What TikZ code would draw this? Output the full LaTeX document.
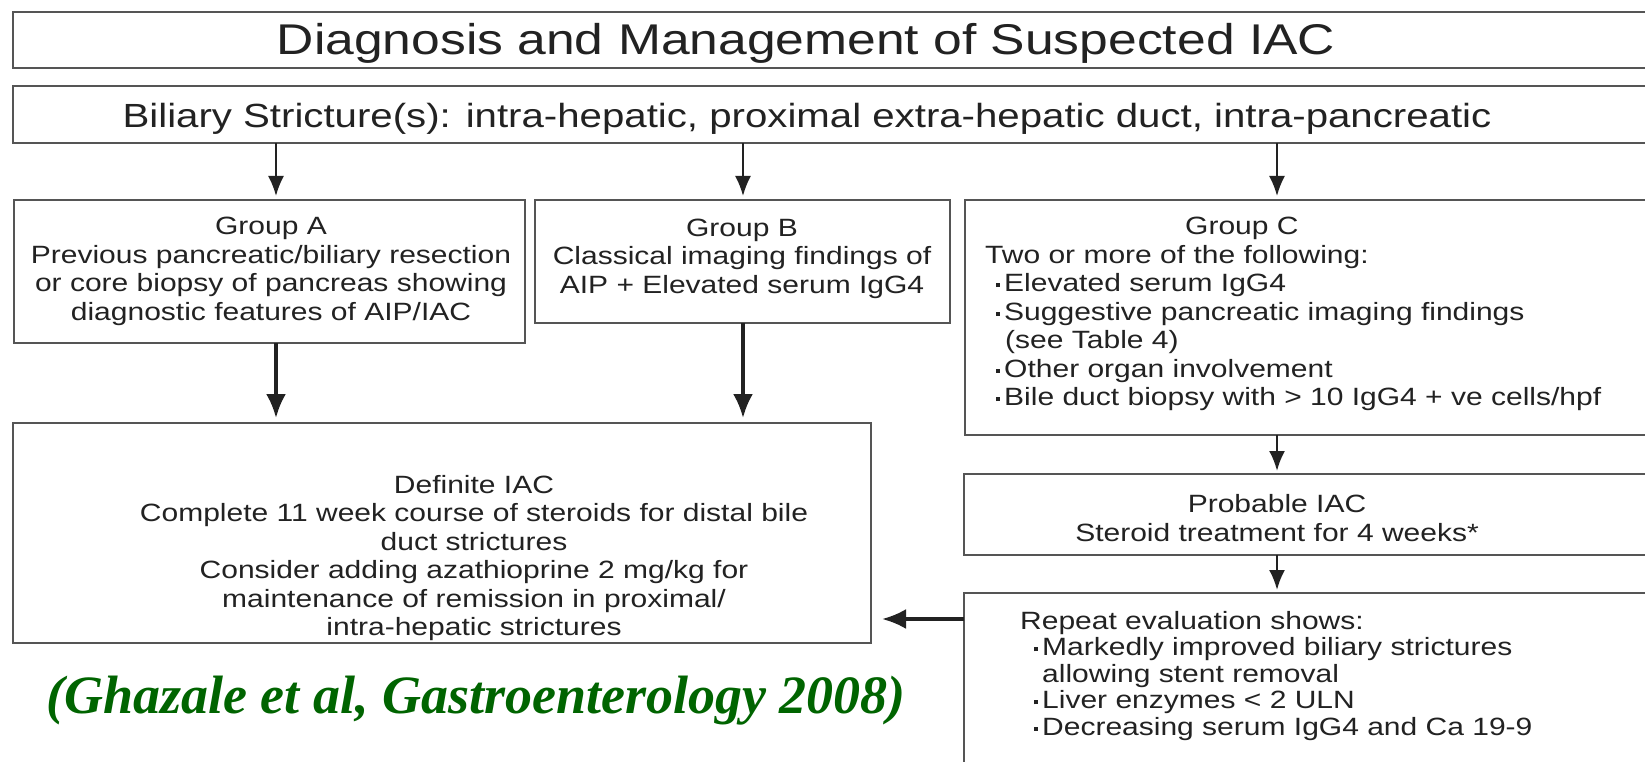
\documentclass[tikz,border=0pt]{standalone}
\usepackage{fontspec}
\setmainfont{Liberation Sans}
\newfontfamily\ff[FakeStretch=1.2]{Liberation Sans}
\newfontfamily\citefont{Liberation Serif}
\usetikzlibrary{arrows.meta}
\definecolor{txt}{HTML}{222222}
\definecolor{bord}{HTML}{555555}
\definecolor{citegreen}{HTML}{006400}
\newcommand\bul{\makebox[8pt][l]{\rule[4.5pt]{4pt}{4pt}}}
\begin{document}
\begin{tikzpicture}[x=1pt,y=-1pt,
  box/.style={draw=bord,line width=2.2pt,inner sep=0pt,outer sep=0pt,anchor=north west},
  body/.style={text=txt,inner sep=0pt,font=\ff\fontsize{25}{28.5}\selectfont},
  arrsmall/.style={draw=txt,line width=2pt,-{Latex[length=20pt,width=16pt]}},
  arrbig/.style={draw=txt,line width=3.5pt,-{Latex[length=24pt,width=20pt]}},
  ]
\useasboundingbox (0,0) rectangle (1645,762);
\clip (0,0) rectangle (1645,762);
\fill[white] (0,0) rectangle (1645,762);

% boxes
\node[box, minimum width=1647pt, minimum height=56pt] (title) at (13,12) {};
\node[box, minimum width=1647pt, minimum height=57pt] (bil) at (13,86) {};
\node[box, minimum width=511pt, minimum height=143pt] (grpA) at (14,200) {};
\node[box, minimum width=415pt, minimum height=123pt] (grpB) at (535,200) {};
\node[box, minimum width=700pt, minimum height=235pt] (grpC) at (965,200) {};
\node[box, minimum width=858pt, minimum height=220pt] (def) at (13,423) {};
\node[box, minimum width=700pt, minimum height=81pt] (prob) at (964,474) {};
\node[box, minimum width=700pt, minimum height=171pt] (rep) at (964,593) {};

% texts
\node[text=txt, inner sep=0pt, anchor=base, font=\ff\fontsize{43}{50}\selectfont] (titletext) at (806,55) {Diagnosis and Management of Suspected IAC};
\node[text=txt, inner sep=0pt, anchor=base, font=\ff\fontsize{33.5}{40}\selectfont] (biltext) at (807,128) {Biliary Stricture(s): intra-hepatic, proximal extra-hepatic duct, intra-pancreatic};

\node[body, align=center] (grpAtext) at (271,271.5) {Group A\\Previous pancreatic/biliary resection\\or core biopsy of pancreas showing\\diagnostic features of AIP/IAC};
\node[body, align=center] (grpBtext) at (742,258.5) {Group B\\Classical imaging findings of\\AIP + Elevated serum IgG4};
\node[body, align=left, anchor=west] (grpCtext) at (985,314) {\hspace*{200pt}Group C\\
Two or more of the following:\\
\hspace*{11pt}\bul Elevated serum IgG4\\
\hspace*{11pt}\bul Suggestive pancreatic imaging findings\\
\hspace*{20pt}(see Table 4)\\
\hspace*{11pt}\bul Other organ involvement\\
\hspace*{11pt}\bul Bile duct biopsy with > 10 IgG4 + ve cells/hpf};
\node[body, align=center] (deftext) at (474,558) {Definite IAC\\Complete 11 week course of steroids for distal bile\\duct strictures\\Consider adding azathioprine 2 mg/kg for\\maintenance of remission in proximal/\\intra-hepatic strictures};
\node[body, align=center] (probtext) at (1277,518) {Probable IAC\\Steroid treatment for 4 weeks*};
\node[body, align=left, anchor=west, font=\ff\fontsize{25}{26.5}\selectfont] (reptext) at (1020,676) {Repeat evaluation shows:\\
\hspace*{14pt}\bul Markedly improved biliary strictures\\
\hspace*{22pt}allowing stent removal\\
\hspace*{14pt}\bul Liver enzymes < 2 ULN\\
\hspace*{14pt}\bul Decreasing serum IgG4 and Ca 19-9};

\node[text=citegreen, inner sep=0pt, anchor=base, font=\citefont\bfseries\itshape\fontsize{54}{60}\selectfont] (cite) at (476,713) {(Ghazale et al, Gastroenterology 2008)};

% connectors
\coordinate (xa) at (276,0);
\coordinate (xb) at (743,0);
\coordinate (xc) at (1277,0);
\coordinate (yr) at (0,619);
\draw[arrsmall, shorten >=4pt] (bil.south -| xa) -- (grpA.north -| xa);
\draw[arrsmall, shorten >=4pt] (bil.south -| xb) -- (grpB.north -| xb);
\draw[arrsmall, shorten >=4pt] (bil.south -| xc) -- (grpC.north -| xc);
\draw[arrbig, shorten >=5pt] (grpA.south -| xa) -- (def.north -| xa);
\draw[arrbig, shorten >=5pt] (grpB.south -| xb) -- (def.north -| xb);
\draw[arrsmall, line width=2.5pt, shorten >=3pt] (grpC.south -| xc) -- (prob.north -| xc);
\draw[arrsmall, line width=2.5pt, shorten >=3pt] (prob.south -| xc) -- (rep.north -| xc);
\draw[arrbig, shorten >=11pt] (rep.west |- yr) -- (def.east |- yr);
\end{tikzpicture}
\end{document}
